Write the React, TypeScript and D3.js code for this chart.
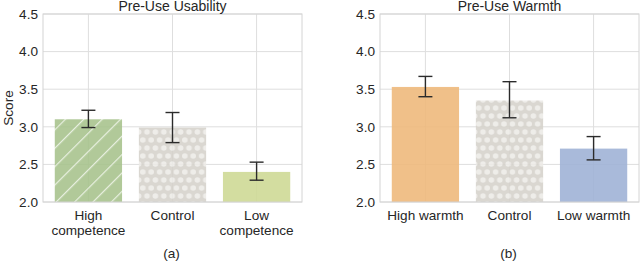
import * as d3 from 'd3'

// Panel (a): Pre-Use Usability
const catsA = ['High\ncompetence', 'Control', 'Low\ncompetence']
const meansA = [3.1, 2.99, 2.4]
const loA = [2.99, 2.79, 2.29]
const hiA = [3.22, 3.19, 2.53]

// Panel (b): Pre-Use Warmth
const catsB = ['High warmth', 'Control', 'Low warmth']
const meansB = [3.53, 3.35, 2.71]
const loB = [3.4, 3.12, 2.56]
const hiB = [3.67, 3.6, 2.87]

const yTicks = [2.0, 2.5, 3.0, 3.5, 4.0, 4.5]

const FONT = '"Liberation Sans", Arial, sans-serif'
const TEXT = '#262626'
const FS = 13.6

type PanelProps = {
  left: number
  right: number
  title: string
  label: string
  cats: string[]
  means: number[]
  lo: number[]
  hi: number[]
  fills: string[]
  showYLabel?: boolean
}

const top = 14
const bottom = 202

function Panel({ left, right, title, label, cats, means, lo, hi, fills, showYLabel }: PanelProps) {
  // matplotlib-like bar layout: xlim -0.54 .. 2.54
  const x = d3.scaleLinear().domain([-0.54, 2.54]).range([left, right])
  const y = d3.scaleLinear().domain([2, 4.5]).range([bottom, top])
  const bw = x(0.4) - x(0)
  const cap = 7

  return (
    <g fontFamily={FONT}>
      <rect x={left} y={top} width={right - left} height={bottom - top} fill="white" />
      {/* grid */}
      <g stroke="#dedede" strokeWidth={1}>
        {yTicks.map((t) => (
          <line key={t} x1={left} x2={right} y1={y(t)} y2={y(t)} />
        ))}
        {cats.map((c, i) => (
          <line key={c} x1={x(i)} x2={x(i)} y1={top} y2={bottom} />
        ))}
      </g>
      {/* bars */}
      {means.map((m, i) => (
        <rect
          key={i}
          x={x(i) - bw}
          width={bw * 2}
          y={y(m)}
          height={y(2) - y(m)}
          fill={fills[i]}
          opacity={0.88}
        />
      ))}
      {/* error bars */}
      <g stroke="#2b2b2b" strokeWidth={1.4}>
        {means.map((m, i) => (
          <g key={i}>
            <line x1={x(i)} x2={x(i)} y1={y(lo[i])} y2={y(hi[i])} />
            <line x1={x(i) - cap} x2={x(i) + cap} y1={y(lo[i])} y2={y(lo[i])} />
            <line x1={x(i) - cap} x2={x(i) + cap} y1={y(hi[i])} y2={y(hi[i])} />
          </g>
        ))}
      </g>
      {/* frame */}
      <rect
        x={left}
        y={top}
        width={right - left}
        height={bottom - top}
        fill="none"
        stroke="#d4d4d4"
        strokeWidth={1}
      />
      {/* y tick labels */}
      {yTicks.map((t) => (
        <text
          key={t}
          x={left - 5}
          y={y(t)}
          dy="0.36em"
          textAnchor="end"
          fontSize={FS}
          fill={TEXT}
        >
          {d3.format('.1f')(t)}
        </text>
      ))}
      {/* x tick labels */}
      {cats.map((c, i) => (
        <text key={c} x={x(i)} y={220} textAnchor="middle" fontSize={FS} fill={TEXT}>
          {c.split('\n').map((line, j) => (
            <tspan key={j} x={x(i)} dy={j === 0 ? 0 : 14.5}>
              {line}
            </tspan>
          ))}
        </text>
      ))}
      <text x={(left + right) / 2} y={11} textAnchor="middle" fontSize={14} fill={TEXT}>
        {title}
      </text>
      <text x={(left + right) / 2 - 1} y={258} textAnchor="middle" fontSize={FS} fill={TEXT}>
        {label}
      </text>
      {showYLabel && (
        <text
          transform={`translate(13,${(top + bottom) / 2}) rotate(-90)`}
          textAnchor="middle"
          fontSize={FS}
          fill={TEXT}
        >
          Score
        </text>
      )}
    </g>
  )
}

export default function App() {
  return (
    <svg
      width={640}
      height={261}
      style={{ position: 'absolute', left: 0, top: 0, background: 'white' }}
    >
      <defs>
        <pattern id="hatchGreen" patternUnits="userSpaceOnUse" width={13} height={13} patternTransform="rotate(45)">
          <rect width={13} height={13} fill="#a6c28b" />
          <line x1={0} x2={0} y1={0} y2={13} stroke="#e6eedd" strokeWidth={2.4} />
        </pattern>
        <pattern id="dotsGrey" patternUnits="userSpaceOnUse" width={8.4} height={16}>
          <rect width={8.4} height={16} fill="#d5d2cb" />
          <circle cx={4.2} cy={4} r={2.8} fill="#eceae6" />
          <circle cx={0} cy={12} r={2.8} fill="#eceae6" />
          <circle cx={8.4} cy={12} r={2.8} fill="#eceae6" />
        </pattern>
      </defs>
      <Panel
        left={43}
        right={302}
        title="Pre-Use Usability"
        label="(a)"
        cats={catsA}
        means={meansA}
        lo={loA}
        hi={hiA}
        fills={['url(#hatchGreen)', 'url(#dotsGrey)', '#cdd893']}
        showYLabel
      />
      <Panel
        left={380}
        right={639}
        title="Pre-Use Warmth"
        label="(b)"
        cats={catsB}
        means={meansB}
        lo={loB}
        hi={hiB}
        fills={['#eeb779', 'url(#dotsGrey)', '#9db0d5']}
      />
    </svg>
  )
}
